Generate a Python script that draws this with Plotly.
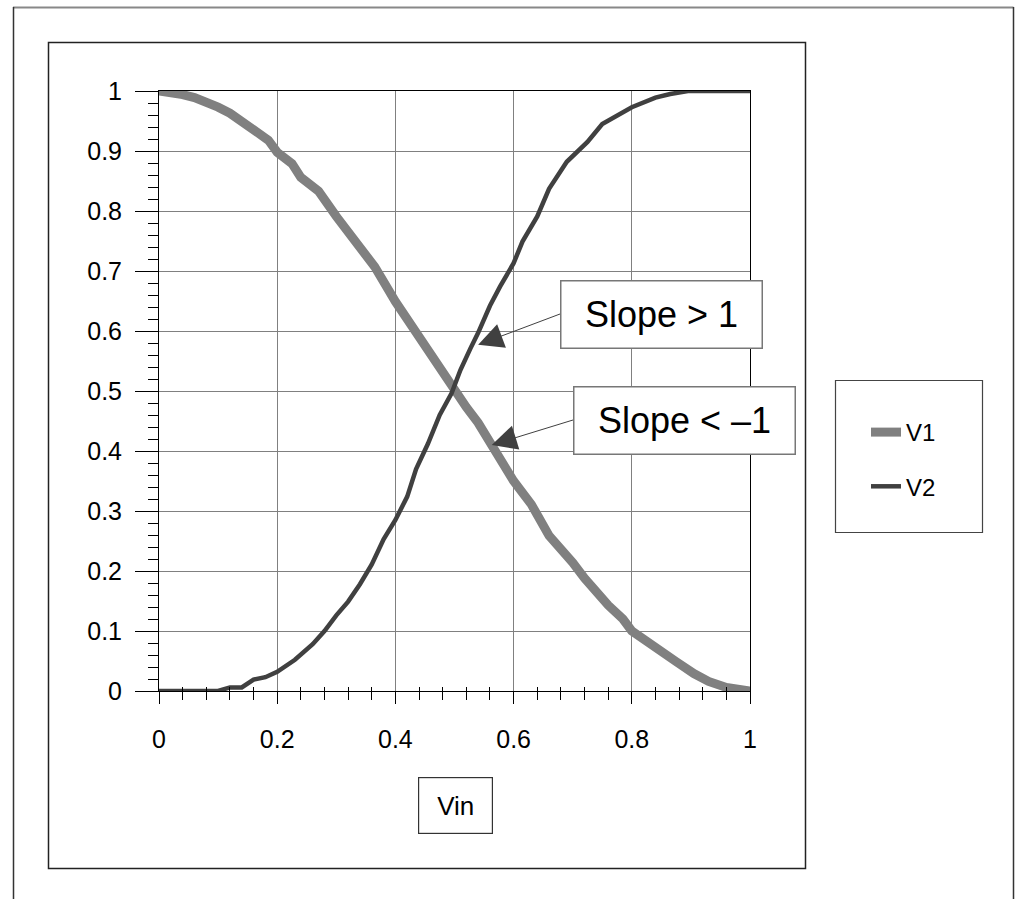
import plotly.graph_objects as go

# ---- data ----
v1_x = [0, 0.02, 0.04, 0.06, 0.08, 0.1, 0.12, 0.14, 0.16, 0.185, 0.2, 0.225, 0.24, 0.27, 0.3,
        0.325, 0.345, 0.365, 0.4, 0.44, 0.46, 0.5, 0.52, 0.54, 0.56, 0.6, 0.63, 0.66, 0.7,
        0.72, 0.76, 0.785, 0.8, 0.84, 0.875, 0.905, 0.93, 0.96, 0.99, 1.0]
v1_y = [1.0, 0.998, 0.994, 0.989, 0.982, 0.973, 0.963, 0.95, 0.934, 0.918, 0.898, 0.879,
        0.856, 0.833, 0.791, 0.759, 0.733, 0.707, 0.649, 0.59, 0.558, 0.503, 0.473, 0.447,
        0.415, 0.35, 0.311, 0.259, 0.214, 0.188, 0.143, 0.12, 0.10, 0.071, 0.049, 0.029,
        0.016, 0.006, 0.001, 0.0]

v2_x = [0, 0.1, 0.12, 0.14, 0.16, 0.18, 0.2, 0.23, 0.26, 0.28, 0.3, 0.32, 0.34, 0.36, 0.38,
        0.4, 0.42, 0.435, 0.455, 0.475, 0.495, 0.51, 0.527, 0.54, 0.56, 0.577, 0.6, 0.615,
        0.64, 0.66, 0.69, 0.725, 0.75, 0.78, 0.8, 0.84, 0.865, 0.895, 1.0]
v2_y = [0, 0, 0.006, 0.006, 0.019, 0.023, 0.032, 0.052, 0.078, 0.10, 0.126, 0.149, 0.178,
        0.211, 0.253, 0.285, 0.324, 0.37, 0.412, 0.46, 0.496, 0.535, 0.571, 0.597, 0.642,
        0.674, 0.713, 0.749, 0.791, 0.837, 0.882, 0.915, 0.945, 0.963, 0.973, 0.989, 0.995,
        1.0, 1.0]

series_names = ["V1", "V2"]
x_title = "Vin"
note_texts = ["Slope > 1", "Slope < \u20131"]

# ---- layout geometry (pixels) ----
W_FIG, H_FIG = 1019, 899
L, R, T, B = 159, 750, 91, 691
PW, PH = R - L, B - T


def px(X):
    return (X - L) / PW


def py(Y):
    return (B - Y) / PH


FONT = "Liberation Sans, Arial, sans-serif"

fig = go.Figure()
fig.add_trace(go.Scatter(x=v1_x, y=v1_y, mode="lines", name=series_names[0],
                         line=dict(color="#808080", width=9), legendgroup="a"))
fig.add_trace(go.Scatter(x=v2_x, y=v2_y, mode="lines", name=series_names[1],
                         line=dict(color="#404040", width=4.5), legendgroup="b"))

shapes = [
    # outer frame (open at the bottom)
    dict(type="line", xref="paper", yref="paper", x0=px(13), x1=px(1013.5), y0=py(7.5), y1=py(7.5),
         line=dict(color="#888888", width=2)),
    dict(type="line", xref="paper", yref="paper", x0=px(13.5), x1=px(13.5), y0=py(7), y1=py(905),
         line=dict(color="#333333", width=1.5)),
    dict(type="line", xref="paper", yref="paper", x0=px(1013.5), x1=px(1013.5), y0=py(7), y1=py(905),
         line=dict(color="#333333", width=1.5)),
    # chart area box
    dict(type="rect", xref="paper", yref="paper", x0=px(48.5), x1=px(805.5), y0=py(42.5), y1=py(868.5),
         line=dict(color="#222222", width=1.5), layer="below"),
    # legend box
    dict(type="rect", xref="paper", yref="paper", x0=px(835.5), x1=px(982.5), y0=py(380.5), y1=py(532.5),
         line=dict(color="#444444", width=1.2), layer="below"),
]

annotations = [
    dict(text=x_title, xref="paper", yref="paper", x=px(455), y=py(805), showarrow=False,
         width=73, height=55, borderpad=0, bordercolor="#333333", borderwidth=1.2,
         bgcolor="white", font=dict(family=FONT, size=26, color="black"),
         xanchor="center", yanchor="middle"),
    dict(text=note_texts[0], x=0.54, y=0.577, xref="x", yref="y",
         ax=px(560), ay=py(314), axref="x", ayref="y",
         showarrow=True, arrowhead=2, arrowsize=5, arrowwidth=1, arrowcolor="#404040",
         xanchor="left", yanchor="middle", width=200, height=66, borderpad=0,
         bordercolor="#777777", borderwidth=1.5, bgcolor="white",
         font=dict(family=FONT, size=36, color="black")),
    dict(text=note_texts[1], x=0.563, y=0.41, xref="x", yref="y",
         ax=px(573), ay=py(420), axref="x", ayref="y",
         showarrow=True, arrowhead=2, arrowsize=5, arrowwidth=1, arrowcolor="#404040",
         xanchor="left", yanchor="middle", width=220, height=66, borderpad=0,
         bordercolor="#777777", borderwidth=1.5, bgcolor="white",
         font=dict(family=FONT, size=36, color="black")),
]

fig.update_layout(
    width=W_FIG, height=H_FIG,
    margin=dict(l=L, r=W_FIG - R, t=T, b=H_FIG - B, pad=0),
    paper_bgcolor="white", plot_bgcolor="white",
    font=dict(family=FONT, size=25, color="black"),
    showlegend=True,
    legend=dict(x=px(866), y=py(410), xanchor="left", yanchor="top",
                bgcolor="rgba(0,0,0,0)", borderwidth=0,
                font=dict(family=FONT, size=24, color="black"),
                traceorder="grouped", tracegroupgap=20),
    xaxis=dict(range=[0, 1], dtick=0.2, tick0=0, showgrid=True, gridcolor="#808080", gridwidth=1,
               showline=True, linecolor="black", linewidth=1, mirror=True,
               ticks="outside", ticklen=12, tickcolor="black", tickwidth=1,
               ticklabelstandoff=14, zeroline=False,
               tickfont=dict(family=FONT, size=25, color="black"),
               minor=dict(dtick=0.04, ticks="outside", ticklen=8, tickcolor="black", showgrid=False)),
    xaxis2=dict(range=[0, 1], overlaying="x", anchor="y", side="bottom", showgrid=False,
                showline=False, showticklabels=False, ticks="", zeroline=False,
                minor=dict(dtick=0.04, tick0=0, ticks="inside", ticklen=4, tickcolor="black",
                           showgrid=False)),
    yaxis=dict(range=[0, 1], dtick=0.1, tick0=0, showgrid=True, gridcolor="#808080", gridwidth=1,
               showline=True, linecolor="black", linewidth=1, mirror=True,
               ticks="outside", ticklen=23, tickcolor="black", tickwidth=1,
               ticklabelstandoff=8, zeroline=False,
               tickfont=dict(family=FONT, size=25, color="black"),
               minor=dict(dtick=0.02, ticks="outside", ticklen=10, tickcolor="black", showgrid=False)),
    shapes=shapes,
    annotations=annotations,
)
# invisible helper trace so the overlay axis carrying the inner half of the minor ticks is drawn
fig.add_trace(go.Scatter(x=[None], y=[None], xaxis="x2", showlegend=False, hoverinfo="skip"))

fig.write_html("out.html")
